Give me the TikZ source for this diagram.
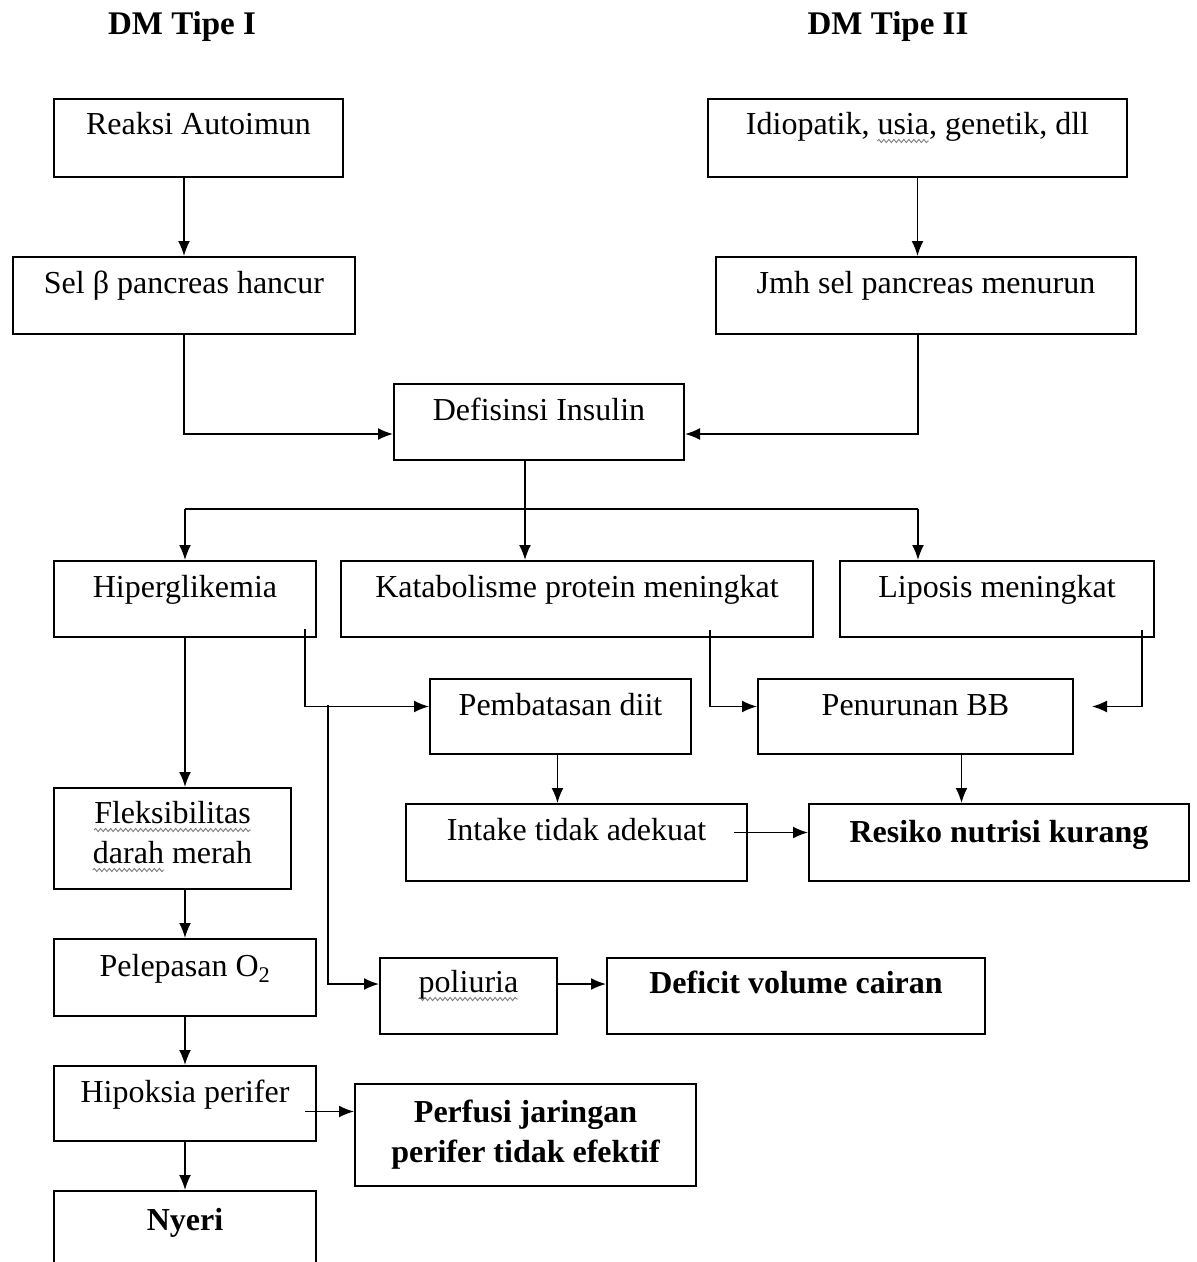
\documentclass[tikz,border=0pt]{standalone}
\usepackage{fontspec}
\setmainfont{Liberation Serif}
\usetikzlibrary{arrows.meta,calc,decorations.pathmorphing}
\newlength\lpre
\newlength\lusia
\newlength\ldarah
\begin{document}
\settowidth{\lpre}{\fontsize{32}{40}\selectfont Idiopatik, }
\settowidth{\lusia}{\fontsize{32}{40}\selectfont usia}
\settowidth{\ldarah}{\fontsize{32}{40}\selectfont darah}
\begin{tikzpicture}[x=1pt,y=-1pt,
  every node/.style={font=\fontsize{32}{40}\selectfont},
  boxst/.style={draw, line width=2pt, inner sep=0pt, anchor=north west},
  txt/.style={inner sep=0pt, anchor=base, align=center},
  bld/.style={txt, font=\fontsize{32}{40}\selectfont\bfseries},
  ttl/.style={inner sep=0pt, anchor=base, font=\fontsize{33}{40}\selectfont\bfseries},
  ln/.style={line width=1.7pt},
  arr/.style={ln, -{Latex[length=15pt,width=12pt]}},
  wave/.style={draw=gray, line width=0.9pt, decorate, decoration={snake, amplitude=1.6pt, segment length=5pt}}]
\useasboundingbox (0,0) rectangle (1197,1262);
\clip (0,0) rectangle (1197,1262);
\fill[white] (0,0) rectangle (1197,1262);

\node[ttl] (ttlA) at (182,34) {DM Tipe I};
\node[ttl] (ttlB) at (888,34) {DM Tipe II};

% boxes
\node[boxst, minimum width=289pt, minimum height=78pt] (reaksi) at (53,98) {};
\node[boxst, minimum width=419pt, minimum height=78pt] (idio) at (707,98) {};
\node[boxst, minimum width=342pt, minimum height=77pt] (sel) at (12,256) {};
\node[boxst, minimum width=420pt, minimum height=77pt] (jmh) at (715,256) {};
\node[boxst, minimum width=290pt, minimum height=76pt] (def) at (393,383) {};
\node[boxst, minimum width=262pt, minimum height=76pt] (hiper) at (53,560) {};
\node[boxst, minimum width=472pt, minimum height=76pt] (kata) at (340,560) {};
\node[boxst, minimum width=314pt, minimum height=76pt] (lipo) at (839,560) {};
\node[boxst, minimum width=261pt, minimum height=75pt] (pemb) at (429,678) {};
\node[boxst, minimum width=315pt, minimum height=75pt] (penu) at (757,678) {};
\node[boxst, minimum width=237pt, minimum height=101pt] (flek) at (53,787) {};
\node[boxst, minimum width=341pt, minimum height=77pt] (intake) at (405,803) {};
\node[boxst, minimum width=380pt, minimum height=77pt] (resiko) at (808,803) {};
\node[boxst, minimum width=262pt, minimum height=77pt] (pelep) at (53,938) {};
\node[boxst, minimum width=177pt, minimum height=76pt] (poli) at (379,957) {};
\node[boxst, minimum width=378pt, minimum height=76pt] (defi) at (606,957) {};
\node[boxst, minimum width=262pt, minimum height=75pt] (hipo) at (53,1065) {};
\node[boxst, minimum width=341pt, minimum height=102pt] (perf) at (354,1083) {};
\node[boxst, minimum width=262pt, minimum height=100pt] (nyeri) at (53,1190) {};

% texts
\node[txt] (reaksiT) at ([yshift=-36pt]reaksi.north) {Reaksi Autoimun};
\node[txt] (idioT) at ([yshift=-36pt]idio.north) {Idiopatik, usia, genetik, dll};
\node[txt] (selT) at ([yshift=-37pt]sel.north) {Sel β pancreas hancur};
\node[txt] (jmhT) at ([yshift=-37pt]jmh.north) {Jmh sel pancreas menurun};
\node[txt] (defT) at ([yshift=-37pt]def.north) {Defisinsi Insulin};
\node[txt] (hiperT) at ([yshift=-37pt]hiper.north) {Hiperglikemia};
\node[txt] (kataT) at ([yshift=-37pt]kata.north) {Katabolisme protein meningkat};
\node[txt] (lipoT) at ([yshift=-37pt]lipo.north) {Liposis meningkat};
\node[txt] (pembT) at ([yshift=-37pt]pemb.north) {Pembatasan diit};
\node[txt] (penuT) at ([yshift=-37pt]penu.north) {Penurunan BB};
\node[txt] (flekT1) at ([yshift=-36pt]flek.north) {Fleksibilitas};
\node[txt] (flekT2) at ([yshift=-76pt]flek.north) {darah merah};
\node[txt] (intakeT) at ([yshift=-37pt]intake.north) {Intake tidak adekuat};
\node[bld] (resikoT) at ([yshift=-39pt]resiko.north) {Resiko nutrisi kurang};
\node[txt] (pelepT) at ([yshift=-38pt]pelep.north) {Pelepasan O\textsubscript{2}};
\node[txt] (poliT) at ([yshift=-35pt]poli.north) {poliuria};
\node[bld] (defiT) at ([yshift=-36pt]defi.north) {Deficit volume cairan};
\node[txt] (hipoT) at ([yshift=-37pt]hipo.north) {Hipoksia perifer};
\node[bld] (perfT1) at ([yshift=-39pt]perf.north) {Perfusi jaringan};
\node[bld] (perfT2) at ([yshift=-79pt]perf.north) {perifer tidak efektif};
\node[bld] (nyeriT) at ([yshift=-40pt]nyeri.north) {Nyeri};

% spell-check underlines
\draw[wave] ([xshift=\lpre,yshift=-7pt]idioT.base west) -- ++(\lusia,0);
\draw[wave] ([yshift=-7pt]flekT1.base west) -- ([yshift=-7pt]flekT1.base east);
\draw[wave] ([yshift=-7pt]flekT2.base west) -- ++(\ldarah,0);
\draw[wave] ([yshift=-7pt]poliT.base west) -- ([yshift=-7pt]poliT.base east);

% helper coordinates
\coordinate (bus) at (0,509);
\coordinate (hbr) at (328,705);
\coordinate (hstart) at ([xshift=-12pt,yshift=9pt]hiper.south east);
\coordinate (kstart) at ([xshift=-104pt,yshift=8pt]kata.south east);
\coordinate (lstart) at ([xshift=-13pt,yshift=8pt]lipo.south east);
\coordinate (istart) at ([xshift=-14pt,yshift=10pt]intake.east);
\coordinate (pstart) at ([xshift=-12pt,yshift=-8pt]hipo.east);
\coordinate (defout) at ([xshift=-14pt]def.south);
\coordinate (jmhout) at ([xshift=-8pt]jmh.south);
\coordinate (lipoin) at ([xshift=-79pt]lipo.north);
\coordinate (penuout) at ([xshift=46pt]penu.south);

% connectors
\draw[arr] (reaksi.south -| sel.north) -- (sel.north);
\draw[arr] (idio.south) -- (idio.south |- jmh.north);
\draw[arr] (sel.south) |- ([yshift=-12pt]def.west);
\draw[arr] (jmhout) |- ([yshift=-12pt]def.east);
\draw[arr] (defout) -- (defout |- kata.north);
\draw[ln] (hiper.north |- bus) -- (lipoin |- bus);
\draw[arr] (hiper.north |- bus) -- (hiper.north);
\draw[arr] (lipoin |- bus) -- (lipoin);
\draw[arr] (hstart) |- ([yshift=10pt]pemb.west);
\draw[arr] (hbr) |- ([yshift=12pt]poli.west);
\draw[arr] (hiper.south) -- (hiper.south |- flek.north);
\draw[arr] (kstart) |- ([yshift=10pt]penu.west);
\draw[arr] (lstart) |- ([xshift=18pt,yshift=10pt]penu.east);
\draw[arr] ([xshift=-3pt]pemb.south) -- ([xshift=-3pt]pemb.south |- intake.north);
\draw[arr] (penuout) -- (penuout |- resiko.north);
\draw[arr] (istart) -- (istart -| resiko.west);
\draw[arr] (flek.south -| hiper.south) -- (hiper.south |- pelep.north);
\draw[arr] (pelep.south) -- (hipo.north);
\draw[arr] (hipo.south) -- (nyeri.north);
\draw[arr] (pstart) -- (pstart -| perf.west);
\draw[arr] ([yshift=12pt]poli.east) -- ([yshift=12pt]defi.west);
\end{tikzpicture}
\end{document}
